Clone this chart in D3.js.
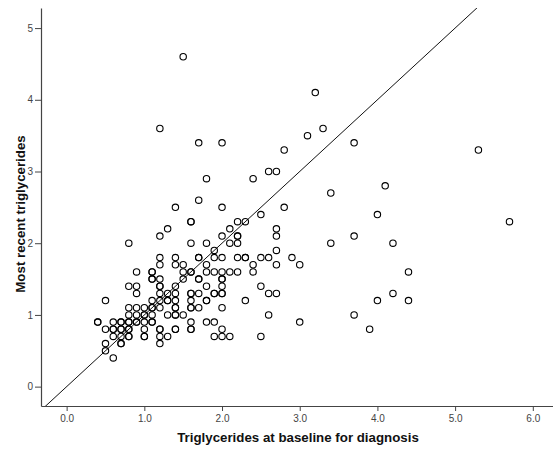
<!DOCTYPE html>
<html lang="en">
  <head>
    <meta charset='UTF-8'>
    <title>Triglycerides scatter</title>
    <script src="https://d3js.org/d3.v7.min.js"></script>
    <style>
      body { margin: 0; background: #fff; }
      svg { display: block; font-family: "Liberation Sans", Arial, sans-serif; }
      .tick text { fill: #444; font-size: 10px; }
      .tick line, .domain { stroke: #444; }
      .title { font-size: 13.3px; font-weight: bold; fill: #111; }
    </style>
  </head>
  <body>
    <svg id="chart" width="553" height="451"></svg>
    <script>
    // [baseline, most recent]; repeated pairs are overlapping cases
    var points = [
      [1.5,4.6],
      [3.2,4.1],
      [1.2,3.6],[3.3,3.6],
      [3.1,3.5],
      [1.7,3.4],[2.0,3.4],[3.7,3.4],
      [2.8,3.3],[5.3,3.3],
      [2.6,3.0],[2.7,3.0],
      [1.8,2.9],[2.4,2.9],
      [4.1,2.8],
      [3.4,2.7],
      [1.7,2.6],
      [1.4,2.5],[2.0,2.5],[2.8,2.5],
      [2.5,2.4],[4.0,2.4],
      [1.6,2.3],[1.6,2.3],[2.2,2.3],[2.3,2.3],[5.7,2.3],
      [1.3,2.2],[2.1,2.2],[2.7,2.2],
      [1.2,2.1],[2.0,2.1],[2.2,2.1],[2.2,2.1],[2.7,2.1],[3.7,2.1],
      [0.8,2.0],[1.6,2.0],[1.8,2.0],[2.1,2.0],[2.2,2.0],[3.4,2.0],[4.2,2.0],
      [1.9,1.9],[2.7,1.9],
      [1.2,1.8],[1.4,1.8],[1.7,1.8],[1.7,1.8],[1.9,1.8],[2.0,1.8],[2.2,1.8],[2.3,1.8],[2.3,1.8],[2.5,1.8],[2.6,1.8],[2.9,1.8],
      [1.2,1.7],[1.4,1.7],[1.5,1.7],[1.8,1.7],[2.4,1.7],[2.7,1.7],[3.0,1.7],
      [0.9,1.6],[1.1,1.6],[1.1,1.6],[1.5,1.6],[1.6,1.6],[1.6,1.6],[1.8,1.6],[1.9,1.6],[2.0,1.6],[2.1,1.6],[2.2,1.6],[2.4,1.6],[4.4,1.6],
      [1.1,1.5],[1.1,1.5],[1.2,1.5],[1.5,1.5],[1.7,1.5],[1.7,1.5],[2.0,1.5],[2.0,1.5],
      [0.8,1.4],[0.9,1.4],[1.2,1.4],[1.2,1.4],[1.4,1.4],[1.8,1.4],[2.0,1.4],[2.5,1.4],
      [0.9,1.3],[1.2,1.3],[1.3,1.3],[1.4,1.3],[1.6,1.3],[1.6,1.3],[1.7,1.3],[1.9,1.3],[1.9,1.3],[2.0,1.3],[2.0,1.3],[2.6,1.3],[2.7,1.3],[4.2,1.3],
      [0.5,1.2],[1.1,1.2],[1.2,1.2],[1.3,1.2],[1.3,1.2],[1.4,1.2],[1.6,1.2],[1.8,1.2],[1.8,1.2],[2.3,1.2],[4.0,1.2],[4.4,1.2],
      [0.8,1.1],[0.9,1.1],[1.0,1.1],[1.1,1.1],[1.1,1.1],[1.2,1.1],[1.4,1.1],[1.4,1.1],[1.6,1.1],[1.6,1.1],[1.7,1.1],[2.0,1.1],
      [0.8,1.0],[0.9,1.0],[1.0,1.0],[1.0,1.0],[1.1,1.0],[1.3,1.0],[1.4,1.0],[1.4,1.0],[1.5,1.0],[2.6,1.0],[3.7,1.0],
      [0.4,0.9],[0.4,0.9],[0.6,0.9],[0.7,0.9],[0.7,0.9],[0.8,0.9],[0.8,0.9],[0.9,0.9],[0.9,0.9],[1.0,0.9],[1.1,0.9],[1.1,0.9],[1.6,0.9],[1.8,0.9],[1.9,0.9],[3.0,0.9],
      [0.5,0.8],[0.6,0.8],[0.6,0.8],[0.7,0.8],[0.7,0.8],[0.8,0.8],[0.8,0.8],[1.0,0.8],[1.2,0.8],[1.2,0.8],[1.4,0.8],[1.4,0.8],[1.6,0.8],[1.6,0.8],[2.0,0.8],[3.9,0.8],
      [0.6,0.7],[0.7,0.7],[0.8,0.7],[0.8,0.7],[1.0,0.7],[1.0,0.7],[1.2,0.7],[1.3,0.7],[1.9,0.7],[2.0,0.7],[2.1,0.7],[2.5,0.7],
      [0.5,0.6],[0.7,0.6],[0.7,0.6],[1.2,0.6],
      [0.5,0.5],
      [0.6,0.4]
    ];
    var xTicks = [0, 1, 2, 3, 4, 5, 6];
    var yTicks = [0, 1, 2, 3, 4, 5];
    var xDomain = [-0.33, 6.26];
    var yDomain = [-0.27, 5.28];
    var xTitle = "Triglycerides at baseline for diagnosis";
    var yTitle = "Most recent triglycerides";

    var svg = d3.select("#chart");
    var plotLeft = 41, plotRight = 553, plotTop = 8, plotBottom = 406;

    var xs = d3.scaleLinear().domain(xDomain).range([plotLeft, plotRight]);
    var ys = d3.scaleLinear().domain(yDomain).range([plotBottom, plotTop]);

    svg.append("clipPath").attr("id", "plotclip")
      .append("rect")
        .attr("x", plotLeft).attr("y", plotTop)
        .attr("width", plotRight - plotLeft).attr("height", plotBottom - plotTop);

    // reference line y = x
    svg.append("line")
      .attr("clip-path", "url(#plotclip)")
      .attr("x1", xs(xDomain[0])).attr("y1", ys(xDomain[0]))
      .attr("x2", xs(xDomain[1])).attr("y2", ys(xDomain[1]))
      .style("stroke", "#111")
      .style("stroke-width", 1);

    svg.append("g")
      .selectAll("circle")
      .data(points)
      .enter()
      .append("circle")
        .attr("cx", function(d) { return xs(d[0]); })
        .attr("cy", function(d) { return ys(d[1]); })
        .attr("r", 3.2)
        .style("fill", "none")
        .style("stroke", "#000")
        .style("stroke-width", 1.1);

    svg.append("g")
      .attr("transform", "translate(0," + plotBottom + ")")
      .call(d3.axisBottom(xs)
        .tickValues(xTicks)
        .tickFormat(d3.format(".1f"))
        .tickSize(5)
        .tickSizeOuter(0)
        .tickPadding(4));

    svg.append("g")
      .attr("transform", "translate(" + plotLeft + ",0)")
      .call(d3.axisLeft(ys)
        .tickValues(yTicks)
        .tickFormat(d3.format("d"))
        .tickSize(6)
        .tickSizeOuter(0)
        .tickPadding(2));

    svg.selectAll("g text").attr("font-family", null).attr("font-size", null);
    svg.selectAll(".domain").style("stroke-width", 1.2);

    svg.append("text")
      .attr("class", "title")
      .attr("text-anchor", "middle")
      .attr("x", 298)
      .attr("y", 442)
      .text(xTitle);

    svg.append("text")
      .attr("class", "title")
      .attr("text-anchor", "middle")
      .attr("transform", "translate(24.5,214) rotate(-90)")
      .text(yTitle);
    </script>
  </body>
</html>
